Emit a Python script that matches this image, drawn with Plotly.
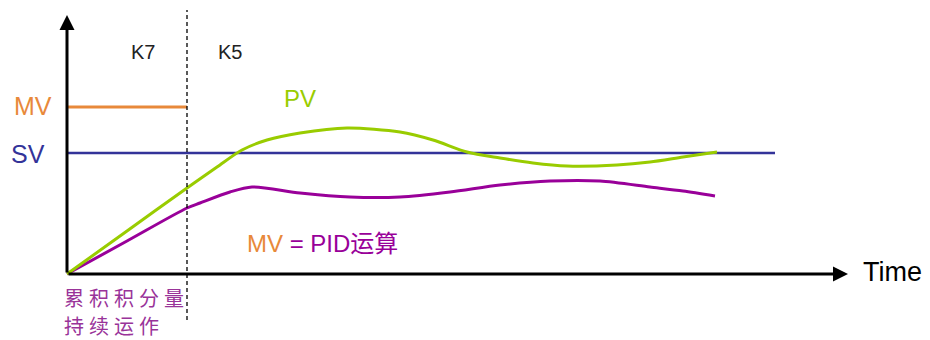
import plotly.graph_objects as go

# Time positions and levels (arbitrary units)
pv_t = [0, 60, 120, 150, 175, 200, 233, 280, 333, 366, 400, 433, 466, 500, 550, 583, 616, 650]
pv_v = [0, 43, 86, 107, 124, 134, 141, 146, 142, 134, 122, 116, 111, 108, 109, 112, 117, 122]

mvpid_t = [0, 60, 120, 133, 163, 185, 233, 283, 333, 383, 433, 483, 533, 583, 616, 648]
mvpid_v = [0, 33, 66, 71, 82, 87, 81, 77, 77, 82, 89, 93, 93, 87, 83, 78]

sv_t = [0, 708]
sv_v = [121, 121]

mv_t = [0, 120]
mv_v = [167, 167]

switch_t = 120
axis_end_t = 781
axis_top_v = 259

ORANGE = "#E8893A"
BLUE = "#333399"
GREEN = "#99CC00"
PURPLE = "#990099"

fig = go.Figure()
fig.add_trace(go.Scatter(x=sv_t, y=sv_v, mode="lines", line=dict(color=BLUE, width=2.5), hoverinfo="skip"))
fig.add_trace(go.Scatter(x=mv_t, y=mv_v, mode="lines", line=dict(color=ORANGE, width=3), hoverinfo="skip"))
fig.add_trace(go.Scatter(x=mvpid_t, y=mvpid_v, mode="lines", line=dict(color=PURPLE, width=3, shape="spline", smoothing=0.8), hoverinfo="skip"))
fig.add_trace(go.Scatter(x=pv_t, y=pv_v, mode="lines", line=dict(color=GREEN, width=3, shape="spline", smoothing=0.8), hoverinfo="skip"))

# dashed separator
fig.add_shape(type="line", x0=switch_t, x1=switch_t, y0=-46, y1=264, line=dict(color="black", width=1.3, dash="4px,3px"))

# axes with arrows
fig.add_annotation(x=0, y=axis_top_v, ax=0, ay=0, xref="x", yref="y", axref="x", ayref="y",
                   showarrow=True, arrowhead=2, arrowsize=1, arrowwidth=3, arrowcolor="black", text="")
fig.add_annotation(x=axis_end_t, y=0, ax=0, ay=0, xref="x", yref="y", axref="x", ayref="y",
                   showarrow=True, arrowhead=2, arrowsize=1, arrowwidth=3, arrowcolor="black", text="")

FONT = "Liberation Sans, Arial, sans-serif"
CJK = "Noto Sans CJK SC"

def txt(x, y, s, color, size, anchor="center", family=FONT):
    fig.add_annotation(x=x, y=y, text=s, showarrow=False, xanchor=anchor, yanchor="middle",
                       font=dict(family=family, size=size, color=color))

SP = "\u2005"
txt(76, 222, "K7", "#222222", 20)
txt(163, 222, "K5", "#222222", 20)
txt(-34, 168, "MV", ORANGE, 25)
txt(-39, 120, "SV", BLUE, 25)
txt(233, 176, "PV", GREEN, 24)
txt(178, 33, f"<span style='color:{ORANGE}'>MV</span> = PID<span style='font-family:{CJK}'>运算</span>", PURPLE, 24, anchor="left")
txt(794, 2, "Time", "black", 27, anchor="left")
txt(-5, -23, SP.join("累积积分量"), "#993399", 20, anchor="left", family=CJK)
txt(-5, -51, SP.join("持续运作"), "#993399", 20, anchor="left", family=CJK)

fig.update_layout(
    width=930, height=340,
    margin=dict(l=0, r=0, t=0, b=0),
    paper_bgcolor="white", plot_bgcolor="white",
    showlegend=False,
    xaxis=dict(range=[-67, 863], visible=False, fixedrange=True),
    yaxis=dict(range=[-66, 274], visible=False, fixedrange=True),
)
fig.write_html("out.html", config={"displayModeBar": False},
               post_script="document.body.style.margin='0';")
